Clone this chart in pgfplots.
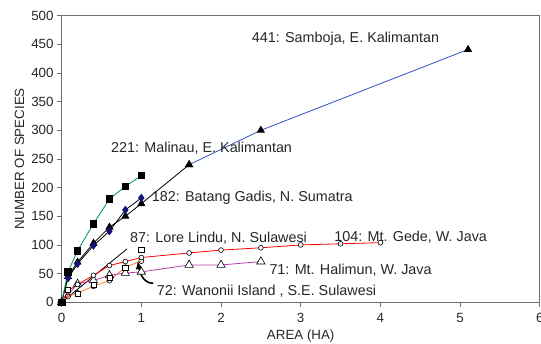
\documentclass[border=0pt]{standalone}
\usepackage{pgfplots}
\pgfplotsset{compat=1.18}
\usepackage{fontspec}
\setmainfont{Liberation Sans}
\usetikzlibrary{arrows.meta}
\definecolor{cgreen}{RGB}{0,150,80}
\definecolor{cblue}{RGB}{50,80,200}
\definecolor{corange}{RGB}{255,120,40}
\definecolor{cmag}{RGB}{190,60,170}
\definecolor{cnavy}{RGB}{20,20,120}
\definecolor{cframe}{RGB}{110,110,110}
\begin{document}
\begin{tikzpicture}[x=1bp,y=1bp]
\begin{axis}[
  at={(0,0)}, anchor=origin,
  scale only axis, width=478.2bp, height=286.6bp,
  xmin=0, xmax=6, ymin=0, ymax=500,
  xtick={0,1,2,3,4,5,6}, ytick={0,50,...,500},
  tick align=outside, xtick pos=bottom, ytick pos=left,
  major tick length=4.5bp,
  axis line style={cframe, line width=0.8bp},
  tick style={cframe, line width=0.8bp},
  every tick label/.append style={font=\fontsize{13.4}{15}\selectfont, text=black!85},
  /pgf/number format/assume math mode=true,
  xticklabel style={yshift=-3bp},
  clip=false,
  xlabel={AREA (HA)}, ylabel={NUMBER OF SPECIES},
  label style={font=\fontsize{13.4}{15}\selectfont, text=black!85},
  xlabel style={at={(axis description cs:0.5,-0.130)}, anchor=base},
  ylabel style={at={(axis description cs:-0.088,0.5)}, anchor=center, rotate=0},
  every axis plot/.append style={line width=0.8bp},
]
% Lore Lindu trend line
\addplot[black, no markers] coordinates {(0,0) (0.82,93)};
% Wanonii (orange, open circles)
\addplot[corange, mark=o, mark size=2.6bp, mark options={black, fill=white, line width=0.6bp}]
  coordinates {(0,0) (0.08,10) (0.2,16) (0.4,28) (0.6,38) (0.8,61) (1,72)};
% Mt. Halimun (magenta, open triangles)
\addplot[cmag, mark=triangle*, mark size=4.8bp, mark options={black, fill=white, line width=0.6bp}]
  coordinates {(0,0) (0.2,32) (0.4,38) (0.6,47) (0.8,51) (1,53) (1.6,65) (2,65) (2.5,71)};
% Mt. Gede (red, small open circles)
\addplot[red, mark=*, mark size=2.4bp, mark options={black, fill=white, line width=0.6bp}]
  coordinates {(0,0) (0.08,20) (0.2,31) (0.4,47) (0.6,64) (0.8,71) (1,78) (1.6,86) (2,91) (2.5,95) (3,100) (3.5,102) (4,104)};
% Lore Lindu (open squares)
\addplot[only marks, mark=square*, mark size=2.6bp, mark options={black, fill=white, line width=0.6bp}]
  coordinates {(0,0) (0.08,22) (0.2,15) (0.4,30) (0.6,42) (0.8,60) (1,91)};
% Samboja (black then blue, filled triangles)
\addplot[black, mark=triangle*, mark size=3.9bp, mark options={black}]
  coordinates {(0,0) (0.08,45) (0.2,70) (0.4,103) (0.6,131) (0.8,150) (1,172) (1.6,240)};
\addplot[cblue, mark=triangle*, mark size=3.9bp, mark options={black}]
  coordinates {(1.6,240) (2.5,300) (5.1,441)};
% Batang Gadis (black line, navy diamonds)
\addplot[black, mark=diamond*, mark size=3.6bp, mark options={cnavy, fill=cnavy}]
  coordinates {(0,0) (0.08,42) (0.2,67) (0.4,99) (0.6,124) (0.8,161) (1,182)};
% Malinau (green line, black squares)
\addplot[cgreen, mark=square*, mark size=3.3bp, mark options={black}]
  coordinates {(0,0) (0.08,53) (0.2,90) (0.4,137) (0.6,180) (0.8,202) (1,221)};
% arrow for Wanonii
\draw[black, line width=1.6bp, -{Latex[length=8bp,width=7bp]}] (axis cs:1.15,33) to[out=180,in=-80] (axis cs:0.955,72);
% labels
\begin{scope}[every node/.style={font=\fontsize{14.4}{16}\selectfont, text=black!85, inner sep=0pt, anchor=base west}]
\node at (axis cs:2.385,453.7) {441: Samboja, E. Kalimantan};
\node at (axis cs:0.62,261) {221: Malinau, E. Kalimantan};
\node at (axis cs:1.13,175.3) {182: Batang Gadis, N. Sumatra};
\node at (axis cs:0.858,103.8) {87: Lore Lindu, N. Sulawesi};
\node at (axis cs:3.42,105.4) {104: Mt. Gede, W. Java};
\node at (axis cs:2.606,48.5) {71: Mt. Halimun, W. Java};
\node at (axis cs:1.193,12.4) {72: Wanonii Island , S.E. Sulawesi};
\end{scope}
\coordinate (bl) at (axis cs:-0.773,-72.7);
\coordinate (tr) at (axis cs:6.015,527.3);
\end{axis}
\pgfresetboundingbox
\path[use as bounding box] (bl) rectangle (tr);
\end{tikzpicture}
\end{document}
